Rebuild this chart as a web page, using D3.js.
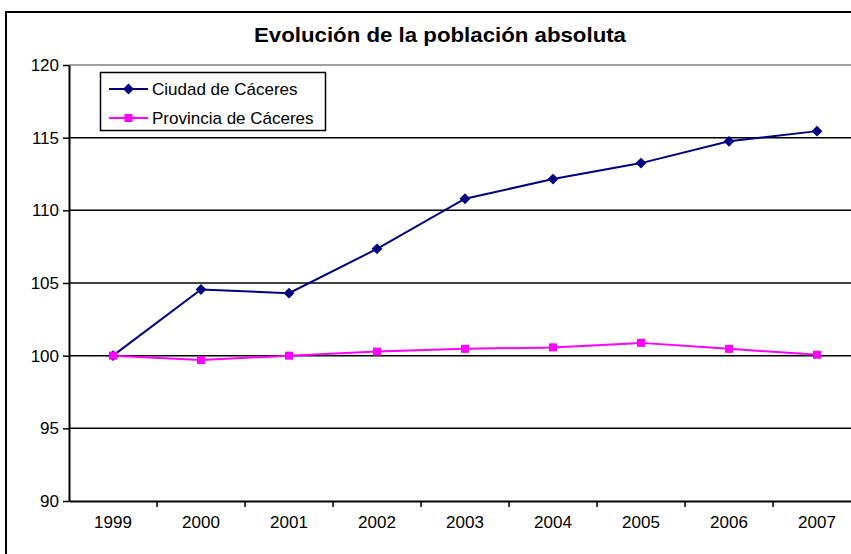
<!DOCTYPE html>
<html>
<head>
<meta charset="utf-8">
<script src="https://cdn.jsdelivr.net/npm/d3@7"></script>
<style>
    html, body { margin: 0; padding: 0; background: #fff; overflow: hidden; }
    svg { display: block; font-family: "Liberation Sans", Arial, sans-serif; }
</style>
</head>
<body>
<svg id="chart" width="851" height="554"></svg>
<script>
// Data
const years = ['1999', '2000', '2001', '2002', '2003', '2004', '2005', '2006', '2007'];
const ciudad = [100, 104.55, 104.3, 107.35, 110.8, 112.15, 113.25, 114.75, 115.45];
const provincia = [100, 99.7, 100.0, 100.28, 100.47, 100.57, 100.88, 100.47, 100.06];
const yTicks = [90, 95, 100, 105, 110, 115, 120];

const seriesNames = ['Ciudad de Cáceres', 'Provincia de Cáceres'];

// Layout
const margin = { left: 69, top: 65, bottom: 501, right: 861 };
const font = '"Liberation Sans", Arial, sans-serif';

const svg = d3.select('#chart');

// Outer chart border
svg.append('rect')
    .attr('x', 6).attr('y', 12)
    .attr('width', 900).attr('height', 600)
    .attr('fill', '#fff')
    .attr('stroke', '#000')
    .attr('stroke-width', 2);

// Scales
const x = d3.scaleBand()
    .domain(years)
    .range([margin.left, margin.right]);

const y = d3.scaleLinear()
    .domain([90, 120])
    .range([margin.bottom, margin.top]);

// Gridlines
svg.append('g')
    .selectAll('line')
    .data(yTicks.filter(d => d > 90))
    .join('line')
    .attr('x1', margin.left).attr('x2', margin.right)
    .attr('y1', d => y(d)).attr('y2', d => y(d))
    .attr('stroke', d => d === 120 ? '#808080' : '#000')
    .attr('stroke-width', 1.5);

// Y axis
const yAxis = svg.append('g')
    .attr('transform', `translate(${margin.left},0)`)
    .call(d3.axisLeft(y).tickValues(yTicks).tickSize(6).tickSizeOuter(0).tickPadding(4));
yAxis.select('.domain').attr('stroke', '#000').attr('stroke-width', 2);
yAxis.selectAll('.tick line').attr('stroke-width', 1.5);
yAxis.selectAll('.tick text').attr('font-size', 17).attr('fill', '#000')
    .attr('font-family', font);

// X axis
const xAxis = svg.append('g')
    .attr('transform', `translate(0,${margin.bottom})`)
    .call(d3.axisBottom(x).tickSize(0).tickPadding(15));
xAxis.select('.domain').attr('stroke', '#000').attr('stroke-width', 2);
xAxis.selectAll('.tick text').attr('font-size', 17).attr('fill', '#000')
    .attr('font-family', font);

// Category boundary ticks
svg.append('g')
    .selectAll('line')
    .data(years.slice(1))
    .join('line')
    .attr('x1', d => x(d)).attr('x2', d => x(d))
    .attr('y1', margin.bottom).attr('y2', margin.bottom + 6)
    .attr('stroke', '#000')
    .attr('stroke-width', 1.5);

// Lines
const line = d3.line()
    .x((d, i) => x(years[i]) + x.bandwidth() / 2)
    .y(d => y(d));

svg.append('path')
    .datum(ciudad)
    .attr('d', line)
    .attr('fill', 'none')
    .attr('stroke', '#000080')
    .attr('stroke-width', 2);

svg.append('path')
    .datum(provincia)
    .attr('d', line)
    .attr('fill', 'none')
    .attr('stroke', '#ff00ff')
    .attr('stroke-width', 2);

// Markers
const diamond = d3.symbol().type(d3.symbolDiamond2).size(75);
svg.append('g')
    .selectAll('path')
    .data(ciudad)
    .join('path')
    .attr('d', diamond)
    .attr('transform', (d, i) => `translate(${x(years[i]) + x.bandwidth() / 2},${y(d)})`)
    .attr('fill', '#000080');

svg.append('g')
    .selectAll('rect')
    .data(provincia)
    .join('rect')
    .attr('x', (d, i) => x(years[i]) + x.bandwidth() / 2 - 4)
    .attr('y', d => y(d) - 4)
    .attr('width', 8).attr('height', 8)
    .attr('fill', '#ff00ff');

// Title
svg.append('text')
    .attr('x', 440).attr('y', 42)
    .attr('text-anchor', 'middle')
    .attr('font-size', 20.5)
    .attr('font-weight', 'bold')
    .attr('textLength', 372)
    .attr('lengthAdjust', 'spacingAndGlyphs')
    .text('Evolución de la población absoluta');

// Legend
const legend = svg.append('g');
legend.append('rect')
    .attr('x', 100.5).attr('y', 72.5)
    .attr('width', 225).attr('height', 58)
    .attr('fill', '#fff')
    .attr('stroke', '#000')
    .attr('stroke-width', 1.5);

const colors = ['#000080', '#ff00ff'];
seriesNames.forEach((name, i) => {
    const ly = 89 + i * 29;
    legend.append('line')
        .attr('x1', 109).attr('x2', 148)
        .attr('y1', ly).attr('y2', ly)
        .attr('stroke', colors[i])
        .attr('stroke-width', 2);
    if (i === 0) {
        legend.append('path')
            .attr('d', diamond)
            .attr('transform', `translate(128.5,${ly})`)
            .attr('fill', colors[i]);
    } else {
        legend.append('rect')
            .attr('x', 124.5).attr('y', ly - 4)
            .attr('width', 8).attr('height', 8)
            .attr('fill', colors[i]);
    }
    legend.append('text')
        .attr('x', 152).attr('y', ly + 6)
        .attr('font-size', 17)
        .text(name);
});
</script>
</body>
</html>
